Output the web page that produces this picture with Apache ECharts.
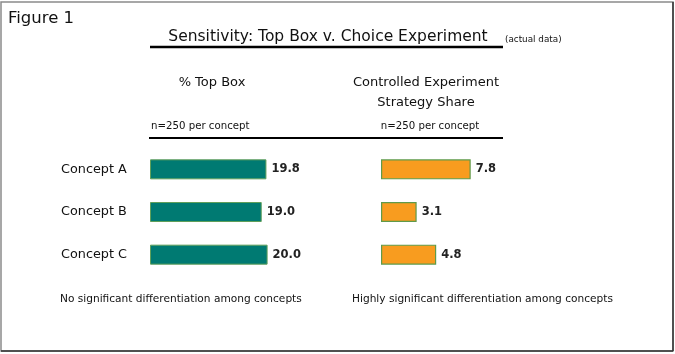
<!DOCTYPE html>
<html>
<head>
<meta charset="utf-8">
<script src="https://cdn.jsdelivr.net/npm/echarts@6/dist/echarts.min.js"></script>
<style>
html,body{margin:0;padding:0;background:#fff;}
#chart{width:675px;height:354px;}
</style>
</head>
<body>
<div id="chart"></div>
<script>
const categories = ['Concept A', 'Concept B', 'Concept C'];
const topBoxValues = [19.8, 19.0, 20.0];
const shareValues = [7.8, 3.1, 4.8];
const figureLabel = 'Figure 1';
const chartTitle = 'Sensitivity: Top Box v. Choice Experiment';
const titleNote = '(actual data)';
const leftHeader = ['% Top Box'];
const rightHeader = ['Controlled Experiment', 'Strategy Share'];
const sampleNote = 'n=250 per concept';
const leftFooter = 'No significant differentiation among concepts';
const rightFooter = 'Highly significant differentiation among concepts';

const FONT = 'DejaVu Sans';
const chart = echarts.init(document.getElementById('chart'), null, {renderer: 'canvas'});

function txt(x, y, text, size, align, weight, color) {
  return {type: 'text', x: x, y: y, style: {text: text, font: (weight || 'normal') + ' ' + size + 'px "' + FONT + '"', fill: color || '#111', align: align || 'left', verticalAlign: 'middle'}};
}

const graphics = [
  {type: 'rect', shape: {x: 1, y: 2, width: 672, height: 349}, style: {fill: 'none', stroke: '#8a8a8a', lineWidth: 1.5}},
  {type: 'line', shape: {x1: 673, y1: 2, x2: 673, y2: 351}, style: {stroke: '#333', lineWidth: 1.5}},
  {type: 'line', shape: {x1: 1, y1: 351, x2: 673, y2: 351}, style: {stroke: '#333', lineWidth: 1.5}},
  txt(8, 19, figureLabel, 16.5),
  txt(328, 37, chartTitle, 15.5, 'center'),
  txt(505, 40, titleNote, 8.8),
  {type: 'line', shape: {x1: 150, y1: 47, x2: 503, y2: 47}, style: {stroke: '#000', lineWidth: 2.5}},
  txt(212, 83, leftHeader[0], 13, 'center'),
  txt(426, 83, rightHeader[0], 13, 'center'),
  txt(426, 103, rightHeader[1], 13, 'center'),
  txt(151, 126, sampleNote, 10.2),
  txt(430, 126, sampleNote, 10.2, 'center'),
  {type: 'line', shape: {x1: 149, y1: 138, x2: 503, y2: 138}, style: {stroke: '#000', lineWidth: 2}},
  txt(60, 299, leftFooter, 10.6),
  txt(352, 299, rightFooter, 10.6)
];

const barLabel = {
  show: true, position: 'right', distance: 5,
  formatter: p => p.value.toFixed(1),
  fontFamily: FONT, fontSize: 11.5, fontWeight: 'bold', color: '#222'
};

chart.setOption({
  animation: false,
  graphic: graphics,
  grid: [
    {left: 150, top: 148, width: 147, height: 128},
    {left: 381, top: 148, width: 115, height: 128}
  ],
  xAxis: [
    {gridIndex: 0, type: 'value', min: 0, max: 25, show: false},
    {gridIndex: 1, type: 'value', min: 0, max: 10, show: false}
  ],
  yAxis: [
    {gridIndex: 0, type: 'category', data: categories, inverse: true,
     axisLine: {show: false}, axisTick: {show: false},
     axisLabel: {align: 'left', margin: 89, fontFamily: FONT, fontSize: 12.8, color: '#111'}},
    {gridIndex: 1, type: 'category', data: categories, inverse: true, show: false}
  ],
  series: [
    {type: 'bar', xAxisIndex: 0, yAxisIndex: 0, data: topBoxValues, barWidth: 20,
     itemStyle: {color: '#007A72', borderColor: '#5f9f5a', borderWidth: 1}, label: barLabel},
    {type: 'bar', xAxisIndex: 1, yAxisIndex: 1, data: shareValues, barWidth: 20,
     itemStyle: {color: '#F89C1F', borderColor: '#5f9a4a', borderWidth: 1.2}, label: barLabel}
  ]
});
</script>
</body>
</html>
